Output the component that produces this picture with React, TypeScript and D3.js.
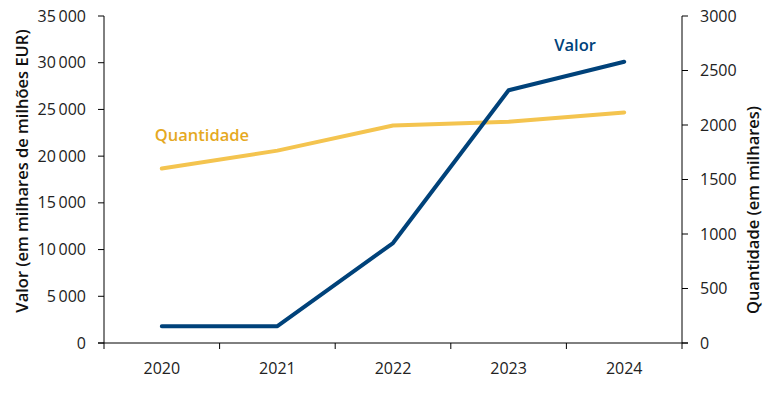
import React from 'react';
import * as d3 from 'd3';

const years = ['2020', '2021', '2022', '2023', '2024'];
const valor = [1800, 1800, 10700, 27050, 30100];
const quantidade = [1600, 1765, 1995, 2030, 2115];
const leftTicks = [0, 5000, 10000, 15000, 20000, 25000, 30000, 35000];
const rightTicks = [0, 500, 1000, 1500, 2000, 2500, 3000];

const W = 771;
const H = 395;
const margin = { top: 16, right: 89, bottom: 52, left: 104 };
const BLUE = '#00427a';
const GOLD = '#f4c44f';
const GOLD_TEXT = '#e5a91f';
const FONT = "'Open Sans', sans-serif";

// thin space as thousands separator, like the reference
const fmt = (v: number) => d3.format(',')(v).replace(/,/g, '\u2009');

const App = () => {
  const innerW = W - margin.left - margin.right;
  const innerH = H - margin.top - margin.bottom;

  const x = d3.scaleBand<string>().domain(years).range([0, innerW]);
  const yL = d3.scaleLinear().domain([0, 35000]).range([innerH, 0]);
  const yR = d3.scaleLinear().domain([0, 3000]).range([innerH, 0]);
  const cx = (d: string) => (x(d) ?? 0) + x.bandwidth() / 2;

  const lineL = d3.line<number>().x((_, i) => cx(years[i])).y(d => yL(d));
  const lineR = d3.line<number>().x((_, i) => cx(years[i])).y(d => yR(d));

  const bounds = [...years.map(y => x(y) ?? 0), innerW];

  return (
    <svg width={W} height={H} style={{ position: 'absolute', left: 0, top: 0 }} fontFamily={FONT}>
      <g transform={`translate(${margin.left},${margin.top})`}>
        {/* left axis */}
        <line x1={0} x2={0} y1={0} y2={innerH} stroke="#000" />
        {leftTicks.map(t => (
          <g key={t} transform={`translate(0,${yL(t)})`}>
            <line x1={-6} x2={0} stroke="#000" />
            <text x={-18} dy="0.35em" textAnchor="end" fontSize={16} fill="#222">{fmt(t)}</text>
          </g>
        ))}
        <text
          transform={`translate(${22 - margin.left},${155}) rotate(-90)`}
          textAnchor="middle"
          dy="0.35em"
          fontSize={16.5}
          fontWeight={600}
          fill="#111"
        >
          Valor (em milhares de milhões EUR)
        </text>

        {/* right axis */}
        <line x1={innerW} x2={innerW} y1={0} y2={innerH} stroke="#000" />
        {rightTicks.map(t => (
          <g key={t} transform={`translate(${innerW},${yR(t)})`}>
            <line x1={0} x2={6} stroke="#000" />
            <text x={18} dy="0.35em" textAnchor="start" fontSize={16} fill="#222">{t}</text>
          </g>
        ))}
        <text
          transform={`translate(${innerW + 71},${194}) rotate(-90)`}
          textAnchor="middle"
          dy="0.35em"
          fontSize={16.5}
          fontWeight={600}
          fill="#111"
        >
          Quantidade (em milhares)
        </text>

        {/* x axis */}
        <line x1={-6} x2={innerW + 6} y1={innerH} y2={innerH} stroke="#000" />
        {bounds.map((b, i) => (
          <line key={i} x1={b} x2={b} y1={innerH} y2={innerH + 6} stroke="#000" />
        ))}
        {years.map(y => (
          <text key={y} x={cx(y)} y={innerH + 31} textAnchor="middle" fontSize={16} fill="#222">{y}</text>
        ))}

        {/* series */}
        <path d={lineR(quantidade) ?? ''} fill="none" stroke={GOLD} strokeWidth={4} strokeLinecap="round" strokeLinejoin="round" />
        <path d={lineL(valor) ?? ''} fill="none" stroke={BLUE} strokeWidth={4} strokeLinecap="round" strokeLinejoin="round" />

        {/* direct labels */}
        <text x={cx('2020') - 7} y={yR(quantidade[0]) - 28} fontSize={16.5} fontWeight={600} fill={GOLD_TEXT}>Quantidade</text>
        <text x={cx('2024') - 70} y={yL(valor[4]) - 11} fontSize={16.5} fontWeight={600} fill={BLUE}>Valor</text>
      </g>
    </svg>
  );
};

export default App;
